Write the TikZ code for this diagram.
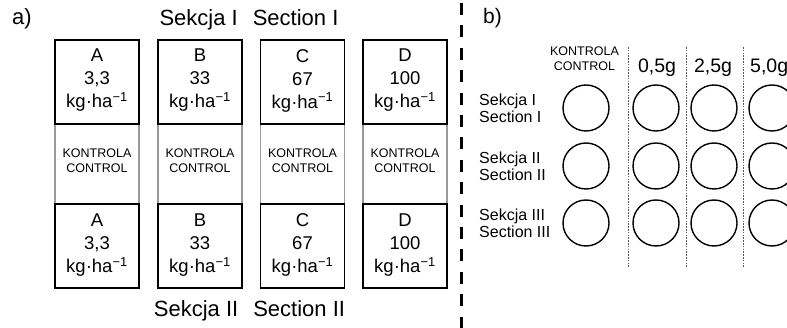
\documentclass[tikz,border=0pt]{standalone}
\usepackage{fontspec}
\setmainfont{Liberation Sans}
\begin{document}
\begin{tikzpicture}[x=1pt,y=-1pt,
  plotbox/.style={draw=black,line width=1.4pt,minimum width=84pt,minimum height=84pt,inner sep=0pt},
  ctrlbox/.style={draw=black!40,line width=1.1pt,minimum width=84pt,minimum height=80pt,inner sep=0pt},
  boxtext/.style={align=center,font=\fontsize{18.5}{23}\selectfont,inner sep=0pt},
  ctrltext/.style={align=center,font=\fontsize{12.5}{15}\selectfont,inner sep=0pt},
  head/.style={font=\fontsize{22}{26}\selectfont,inner sep=0pt,anchor=base},
  rowlab/.style={align=left,font=\fontsize{16}{17}\selectfont,inner sep=0pt,anchor=west},
  dose/.style={font=\fontsize{19.5}{22}\selectfont,inner sep=0pt,anchor=base},
  pot/.style={draw=black,line width=1.4pt,circle,minimum size=46pt,inner sep=0pt},
  sep/.style={line width=3pt,dash pattern=on 12pt off 10.4pt},
  dotsep/.style={draw=black!65,line width=0.9pt,dash pattern=on 1.6pt off 1.2pt}
]
\useasboundingbox (0,0) rectangle (787,328);
% panel a)
\node[head,anchor=base west] (la) at (12,24.5) {a)};
\node[head] (s1) at (249,26) {Sekcja I\hspace{15pt}Section I};
\node[head] (s2) at (249.5,317) {Sekcja II\hspace{15pt}Section II};
\foreach \n/\x/\d in {A/97/{3,3},B/200/33,C/302.5/67,D/405/100}{
  \node[ctrlbox] (c\n) at (\x,164) {};
  \node[ctrltext] (ct\n) at (\x,160.5) {KONTROLA\\CONTROL};
  \node[plotbox] (t\n) at (\x,82) {};
  \node[plotbox] (b\n) at (\x,246) {};
  \node[boxtext] (tt\n) at (\x,80.5) {\n\\\d\\kg·ha\textsuperscript{−1}};
  \node[boxtext] (bt\n) at (\x,245) {\n\\\d\\kg·ha\textsuperscript{−1}};
}
% separator
\coordinate (sepT) at (461,3);
\coordinate (sepB) at (461,330);
\draw[sep] (sepT) -- (sepB);
% panel b)
\node[head,anchor=base west,font=\fontsize{21}{26}\selectfont] (lb) at (483,23.5) {b)};
\node[ctrltext] (kc) at (584.5,58.5) {KONTROLA\\CONTROL};
\node[dose] (d1) at (657,73) {0,5g};
\node[dose] (d2) at (713,73) {2,5g};
\node[dose,anchor=base west] (d3) at (750,73) {5,0g};
\foreach \i/\x in {1/628,2/686,3/743}{
  \coordinate (v\i t) at (\x,47);
  \coordinate (v\i b) at (\x,268);
  \draw[dotsep] (v\i t) -- (v\i b);
}
\foreach \r/\y/\lab in {1/108/{Sekcja I\\Section I},2/166/{Sekcja II\\Section II},3/223/{Sekcja III\\Section III}}{
  \node[rowlab] (r\r) at (479,\y) {\lab};
  \foreach \c/\x in {1/586,2/656,3/714,4/772}{
    \node[pot] (p\r\c) at (\x,\y) {};
  }
}
\end{tikzpicture}
\end{document}
